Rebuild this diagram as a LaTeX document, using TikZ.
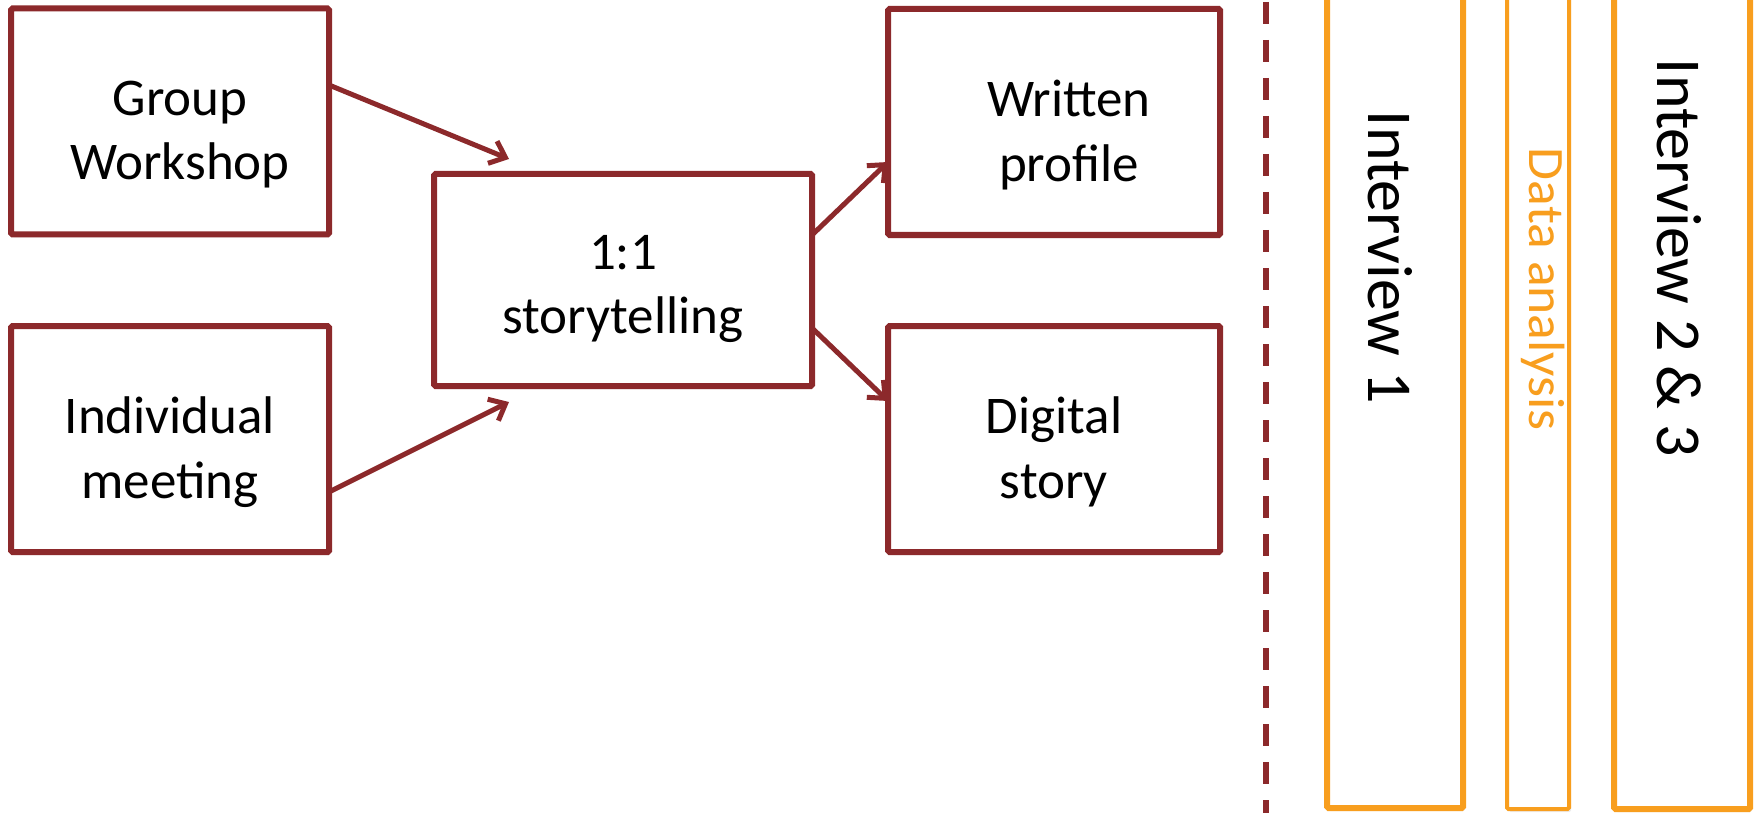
\documentclass[tikz,border=0pt]{standalone}
\usepackage{fontspec}
\setmainfont{Carlito}
\usetikzlibrary{arrows.meta,shadows}
\definecolor{boxred}{RGB}{140,41,43}
\definecolor{bandorange}{RGB}{248,158,30}
\begin{document}
\begin{tikzpicture}[x=1pt,y=-1pt,
  softshadow/.style={drop shadow={shadow xshift=2pt,shadow yshift=-3pt,opacity=0.15}},
  stagebox/.style={draw=boxred, line width=6pt, fill=white, rounded corners=1.5pt,
    minimum width=#1, minimum height=226pt, inner sep=0pt, outer sep=0pt, softshadow},
  captiontext/.style={align=center, font=\fontsize{53}{64.5}\selectfont, inner sep=0pt, text=black},
  caption/.style={label={[captiontext, yshift=-13pt]center:{#1}}},
  band/.style={draw=bandorange, line width=6pt, fill=white, rounded corners=1.5pt,
    minimum width=#1, minimum height=828pt, inner sep=0pt, outer sep=0pt, softshadow},
  bandlabel/.style={rotate=-90, anchor=base west, inner sep=0pt, outer sep=0pt},
  flow/.style={draw=boxred, line width=5pt, -{Straight Barb[length=14pt,width=24pt]}},
  divider/.style={draw=boxred, line width=6pt, dash pattern=on 22pt off 16pt}
]
\useasboundingbox (0,0) rectangle (1756,813);

% left-hand stages
\node[stagebox=318pt, caption={\hspace*{20pt}Group\\\hspace*{20pt}Workshop}] (grp) at (170,121.5) {};
\node[stagebox=318pt, caption={Individual\\meeting}] (ind) at (170,439) {};
\node[stagebox=378pt, minimum height=212pt,
      label={[captiontext, yshift=-9pt]center:{1:1\\storytelling}}] (story) at (623,280) {};
\node[stagebox=332pt, caption={\hspace*{30pt}Written\\\hspace*{30pt}profile}] (prof) at (1054,122) {};
\node[stagebox=332pt, caption={Digital\\story}] (dig) at (1054,439) {};

% connectors
\draw[flow] ([yshift=36.5pt]grp.east) -- ([xshift=75pt,yshift=15pt]story.north west);
\draw[flow] ([yshift=-53pt]ind.east) -- ([xshift=75pt,yshift=-16pt]story.south west);
\draw[flow] ([yshift=45pt]story.east) -- ([yshift=-40pt]prof.west);
\draw[flow] ([yshift=-48pt]story.east) -- ([yshift=38pt]dig.west);

% dashed divider
\coordinate (dtop) at (1266,2);
\coordinate (dbot) at (1266,813);
\draw[divider] (dtop) -- (dbot);

% interview bands
\node[band=136pt] (iv1) at (1395,394) {};
\node[band=62pt, line width=4pt, minimum height=829pt] (da) at (1538,394.5) {};
\node[band=136pt, minimum height=829pt] (iv23) at (1682,394.5) {};

\node[bandlabel, font=\fontsize{64}{77}\selectfont] (iv1t) at (1368,111) {Interview 1};
\node[bandlabel, font=\fontsize{51}{61}\selectfont, text=bandorange] (dat) at (1529,148) {\scalebox{1.05}[1]{Data analysis}};
\node[bandlabel, font=\fontsize{64}{77}\selectfont] (iv23t) at (1657,59) {Interview 2 \& 3};
\end{tikzpicture}
\end{document}
